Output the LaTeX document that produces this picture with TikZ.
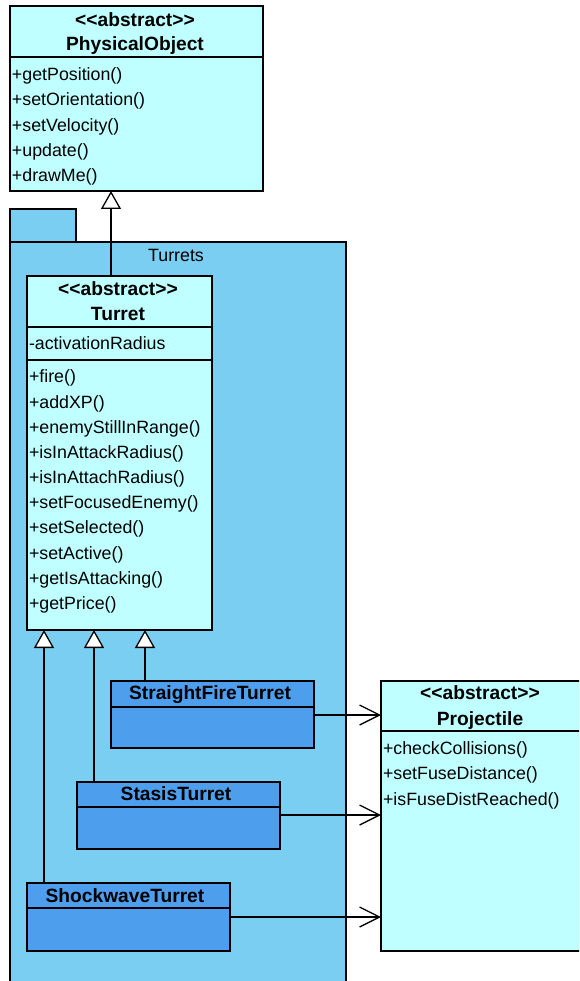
\documentclass[tikz,border=0pt]{standalone}
\usepackage{fontspec}
\setmainfont{Liberation Sans}
\usetikzlibrary{arrows.meta}
\definecolor{abstractfill}{RGB}{192,255,255}
\definecolor{pkgfill}{RGB}{122,206,242}
\definecolor{concretefill}{RGB}{77,158,237}
\newcommand{\stereo}[1]{<{}<#1>{}>}

\begin{document}
\begin{tikzpicture}[x=1pt,y=-1pt,
  every node/.style={inner sep=0pt, outer sep=0pt},
  txt/.style={font=\fontsize{17.8}{21}\selectfont, text height=12.7pt, text depth=0pt},
  op/.style={txt, anchor=west},
  hdr/.style={font=\fontsize{19.2}{22}\selectfont\bfseries, text height=13.7pt, text depth=0pt},
  umlbox/.style={draw=black, line width=1.3pt, anchor=north west, rectangle},
  abstractbox/.style={umlbox, fill=abstractfill},
  concretebox/.style={umlbox, fill=concretefill},
  pkgbox/.style={umlbox, fill=pkgfill},
  sep/.style={draw=black, line width=1.3pt},
  gen/.style={draw=black, line width=1.3pt, -{Triangle[length=18pt, width=20pt, fill=white]}},
  assoc/.style={draw=black, line width=1.3pt, -{Straight Barb[length=20pt, width=20pt, line width=1.3pt]}}
]
\useasboundingbox (0,0) rectangle (579,981);
\clip (0,0) rectangle (579,981);

% Turrets package
\node[pkgbox, minimum width=336pt, minimum height=760pt] (pkg) at (10,242) {};
\node[pkgbox, minimum width=66pt, minimum height=33pt] (tab) at (10,209) {};
\node[txt] (pkglabel) at (176,255) {Turrets};

% PhysicalObject
\node[abstractbox, minimum width=253pt, minimum height=185pt] (po) at (10,6) {};
\node[hdr] (poster) at (135,20) {\stereo{abstract}};
\node[hdr] (poname) at (135,44) {PhysicalObject};
\draw[sep] (po.west |- 0,57) -- (po.east |- 0,57);
\node[op] (po1) at (12,74) {+getPosition()};
\node[op] (po2) at (12,99) {+setOrientation()};
\node[op] (po3) at (12,125) {+setVelocity()};
\node[op] (po4) at (12,150) {+update()};
\node[op] (po5) at (12,175) {+drawMe()};

% Turret
\node[abstractbox, minimum width=185pt, minimum height=354pt] (turret) at (27,276) {};
\node[hdr] (tster) at (118,289) {\stereo{abstract}};
\node[hdr] (tname) at (118,314) {Turret};
\draw[sep] (turret.west |- 0,327) -- (turret.east |- 0,327);
\node[op] (tattr) at (29,343) {-activationRadius};
\draw[sep] (turret.west |- 0,360) -- (turret.east |- 0,360);
\node[op] (t1) at (29,376) {+fire()};
\node[op] (t2) at (29,402) {+addXP()};
\node[op] (t3) at (29,427) {+enemyStillInRange()};
\node[op] (t4) at (29,452) {+isInAttackRadius()};
\node[op] (t5) at (29,477) {+isInAttachRadius()};
\node[op] (t6) at (29,502) {+setFocusedEnemy()};
\node[op] (t7) at (29,527) {+setSelected()};
\node[op] (t8) at (29,553) {+setActive()};
\node[op] (t9) at (29,578) {+getIsAttacking()};
\node[op] (t10) at (29,603) {+getPrice()};

% Concrete turrets
\node[concretebox, minimum width=203pt, minimum height=67pt] (sft) at (111,681) {};
\draw[sep] (sft.west |- 0,707) -- (sft.east |- 0,707);
\node[hdr] (sftname) at (210,693) {StraightFireTurret};

\node[concretebox, minimum width=203pt, minimum height=67pt] (stasis) at (77,782) {};
\draw[sep] (stasis.west |- 0,807) -- (stasis.east |- 0,807);
\node[hdr] (stasisname) at (176,794) {StasisTurret};

\node[concretebox, minimum width=203pt, minimum height=68pt] (shock) at (27,883) {};
\draw[sep] (shock.west |- 0,908) -- (shock.east |- 0,908);
\node[hdr] (shockname) at (125,896) {ShockwaveTurret};

% Projectile
\node[abstractbox, minimum width=200pt, minimum height=270pt] (proj) at (381,681) {};
\node[hdr] (prster) at (480,693) {\stereo{abstract}};
\node[hdr] (prname) at (480,719) {Projectile};
\draw[sep] (proj.west |- 0,731) -- (proj.east |- 0,731);
\node[op] (pr1) at (383,748) {+checkCollisions()};
\node[op] (pr2) at (383,773) {+setFuseDistance()};
\node[op] (pr3) at (383,799) {+isFuseDistReached()};

% Generalizations
\draw[gen] (turret.north -| 111,0) -- (po.south -| 111,0);
\draw[gen] (sft.north -| 145,0) -- (turret.south -| 145,0);
\draw[gen] (stasis.north -| 94,0) -- (turret.south -| 94,0);
\draw[gen] (shock.north -| 44,0) -- (turret.south -| 44,0);

% Associations
\draw[assoc] (sft.east |- 0,715) -- (proj.west |- 0,715);
\draw[assoc] (stasis.east |- 0,815) -- (proj.west |- 0,815);
\draw[assoc] (shock.east |- 0,917) -- (proj.west |- 0,917);
\end{tikzpicture}
\end{document}
